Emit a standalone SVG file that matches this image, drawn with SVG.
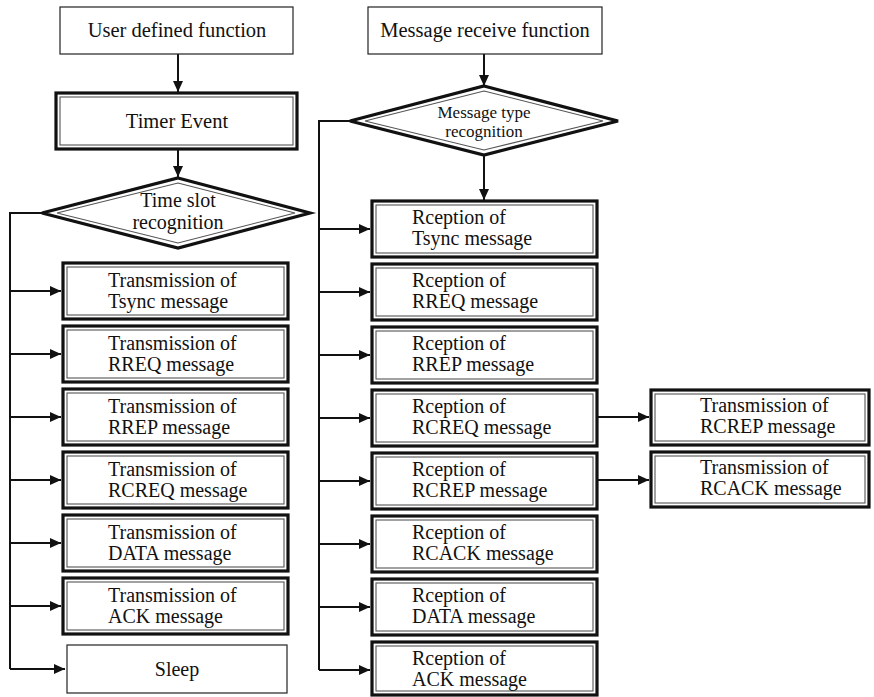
<svg xmlns="http://www.w3.org/2000/svg" width="874" height="697" viewBox="0 0 874 697">
<style>
text{font-family:"Liberation Serif","Times New Roman",serif;fill:#111;font-size:20px}
.c{text-anchor:middle}
.h{font-size:20.5px}
.thin{fill:#fff;stroke:#222;stroke-width:1.2}
.outer{fill:#fff;stroke:#111;stroke-width:3.2}
.inner{fill:none;stroke:#555;stroke-width:1.1}
.con{fill:none;stroke:#111;stroke-width:2}
.sm{font-size:17px}
</style>
<defs>
<marker id="ah" markerUnits="userSpaceOnUse" markerWidth="12" markerHeight="12" refX="11" refY="5" orient="auto">
<path d="M0,0 L11,5 L0,10 z" fill="#111"/>
</marker>
</defs>
<g id="connectors">
<path class="con" marker-end="url(#ah)" d="M178,54 V92"/>
<path class="con" marker-end="url(#ah)" d="M178,149 V177"/>
<path class="con" marker-end="url(#ah)" d="M484,54 V86"/>
<path class="con" marker-end="url(#ah)" d="M484,155 V200"/>
<path class="con" d="M42,213 H10 V669"/>
<path class="con" marker-end="url(#ah)" d="M10,291 H61"/>
<path class="con" marker-end="url(#ah)" d="M10,354 H61"/>
<path class="con" marker-end="url(#ah)" d="M10,417 H61"/>
<path class="con" marker-end="url(#ah)" d="M10,480 H61"/>
<path class="con" marker-end="url(#ah)" d="M10,543 H61"/>
<path class="con" marker-end="url(#ah)" d="M10,606 H61"/>
<path class="con" marker-end="url(#ah)" d="M10,669 H65"/>
<path class="con" d="M350,121 H319 V670"/>
<path class="con" marker-end="url(#ah)" d="M319,229 H370"/>
<path class="con" marker-end="url(#ah)" d="M319,292 H370"/>
<path class="con" marker-end="url(#ah)" d="M319,355 H370"/>
<path class="con" marker-end="url(#ah)" d="M319,418 H370"/>
<path class="con" marker-end="url(#ah)" d="M319,481 H370"/>
<path class="con" marker-end="url(#ah)" d="M319,544 H370"/>
<path class="con" marker-end="url(#ah)" d="M319,607 H370"/>
<path class="con" marker-end="url(#ah)" d="M319,670 H370"/>
<path class="con" marker-end="url(#ah)" d="M597,417 H649"/>
<path class="con" marker-end="url(#ah)" d="M597,480 H649"/>
</g>
<g id="user-defined">
<rect class="thin" x="60" y="7" width="233" height="47"/>
<text class="c h" x="177" y="37">User defined function</text>
</g>
<g id="timer-event">
<rect class="outer" x="56" y="93" width="241" height="56"/>
<rect class="inner" x="60" y="97" width="233" height="48"/>
<text class="c h" x="177" y="128">Timer Event</text>
</g>
<g id="time-slot">
<polygon class="outer" points="178,178 310,213 178,248 42,213"/>
<polygon class="inner" points="178,183 295,213 178,243 57,213"/>
<text class="c" x="178" y="207">Time slot</text>
<text class="c" x="178" y="229">recognition</text>
</g>
<g id="t-tsync">
<rect class="outer" x="63" y="263" width="225" height="56"/>
<rect class="inner" x="67" y="267" width="217" height="48"/>
<text x="108" y="287">Transmission of</text><text x="108" y="308">Tsync message</text>
</g>
<g id="t-rreq">
<rect class="outer" x="63" y="326" width="225" height="56"/>
<rect class="inner" x="67" y="330" width="217" height="48"/>
<text x="108" y="350">Transmission of</text><text x="108" y="371">RREQ message</text>
</g>
<g id="t-rrep">
<rect class="outer" x="63" y="389" width="225" height="56"/>
<rect class="inner" x="67" y="393" width="217" height="48"/>
<text x="108" y="413">Transmission of</text><text x="108" y="434">RREP message</text>
</g>
<g id="t-rcreq">
<rect class="outer" x="63" y="452" width="225" height="56"/>
<rect class="inner" x="67" y="456" width="217" height="48"/>
<text x="108" y="476">Transmission of</text><text x="108" y="497">RCREQ message</text>
</g>
<g id="t-data">
<rect class="outer" x="63" y="515" width="225" height="56"/>
<rect class="inner" x="67" y="519" width="217" height="48"/>
<text x="108" y="539">Transmission of</text><text x="108" y="560">DATA message</text>
</g>
<g id="t-ack">
<rect class="outer" x="63" y="578" width="225" height="56"/>
<rect class="inner" x="67" y="582" width="217" height="48"/>
<text x="108" y="602">Transmission of</text><text x="108" y="623">ACK message</text>
</g>
<g id="sleep">
<rect class="thin" x="67" y="645" width="220" height="48"/>
<text class="c" x="177" y="676">Sleep</text>
</g>
<g id="msg-receive">
<rect class="thin" x="368" y="7" width="234" height="47"/>
<text class="c h" x="485" y="37">Message receive function</text>
</g>
<g id="msg-type">
<polygon class="outer" points="484,86 618,121 484,155 350,121"/>
<polygon class="inner" points="484,91 603,121 484,150 365,121"/>
<text class="c sm" x="484" y="118">Message type</text>
<text class="c sm" x="484" y="137">recognition</text>
</g>
<g id="r-tsync">
<rect class="outer" x="372" y="201" width="225" height="56"/>
<rect class="inner" x="376" y="205" width="217" height="48"/>
<text x="412" y="224">Rception of</text><text x="412" y="245">Tsync message</text>
</g>
<g id="r-rreq">
<rect class="outer" x="372" y="264" width="225" height="56"/>
<rect class="inner" x="376" y="268" width="217" height="48"/>
<text x="412" y="287">Rception of</text><text x="412" y="308">RREQ message</text>
</g>
<g id="r-rrep">
<rect class="outer" x="372" y="327" width="225" height="56"/>
<rect class="inner" x="376" y="331" width="217" height="48"/>
<text x="412" y="350">Rception of</text><text x="412" y="371">RREP message</text>
</g>
<g id="r-rcreq">
<rect class="outer" x="372" y="390" width="225" height="56"/>
<rect class="inner" x="376" y="394" width="217" height="48"/>
<text x="412" y="413">Rception of</text><text x="412" y="434">RCREQ message</text>
</g>
<g id="r-rcrep">
<rect class="outer" x="372" y="453" width="225" height="56"/>
<rect class="inner" x="376" y="457" width="217" height="48"/>
<text x="412" y="476">Rception of</text><text x="412" y="497">RCREP message</text>
</g>
<g id="r-rcack">
<rect class="outer" x="372" y="516" width="225" height="56"/>
<rect class="inner" x="376" y="520" width="217" height="48"/>
<text x="412" y="539">Rception of</text><text x="412" y="560">RCACK message</text>
</g>
<g id="r-data">
<rect class="outer" x="372" y="579" width="225" height="56"/>
<rect class="inner" x="376" y="583" width="217" height="48"/>
<text x="412" y="602">Rception of</text><text x="412" y="623">DATA message</text>
</g>
<g id="r-ack">
<rect class="outer" x="372" y="642" width="225" height="53"/>
<rect class="inner" x="376" y="646" width="217" height="45"/>
<text x="412" y="665">Rception of</text><text x="412" y="686">ACK message</text>
</g>
<g id="t-rcrep">
<rect class="outer" x="651" y="390" width="218" height="55"/>
<rect class="inner" x="655" y="394" width="210" height="47"/>
<text x="700" y="412">Transmission of</text><text x="700" y="433">RCREP message</text>
</g>
<g id="t-rcack">
<rect class="outer" x="651" y="452" width="218" height="55"/>
<rect class="inner" x="655" y="456" width="210" height="47"/>
<text x="700" y="474">Transmission of</text><text x="700" y="495">RCACK message</text>
</g>
</svg>
